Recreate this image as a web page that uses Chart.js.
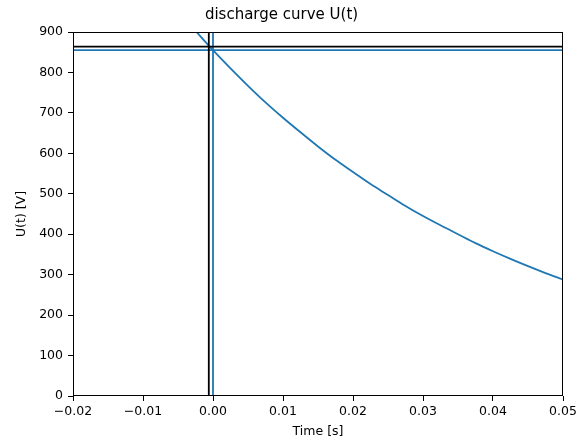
<!DOCTYPE html>
<html>
<head>
<meta charset="utf-8">
<script src="https://cdn.jsdelivr.net/npm/chart.js@4/dist/chart.umd.min.js"></script>
<style>
html,body{margin:0;padding:0;background:#fff;}
#wrap{width:582px;height:441px;}
</style>
</head>
<body>
<div id="wrap"><canvas id="c" width="582" height="441"></canvas></div>
<script>
// Data
const timeS = [-0.0025, 0, 0.0025, 0.005, 0.0075, 0.01, 0.0125, 0.015, 0.0175, 0.02, 0.0225, 0.025, 0.0275, 0.03, 0.0325, 0.035, 0.0375, 0.04, 0.0425, 0.045, 0.0475, 0.05];
const voltageV = [903, 855, 810, 767, 726, 688, 652, 617, 584, 554, 524, 497, 470, 445, 422, 400, 378, 358, 339, 321, 304, 288];
const hLineBlack = 864;
const hLineBlue = 855;
const vLineBlack = -0.0006;
const vLineBlue = 0.0;
const xRange = [-0.02, 0.05];
const yRange = [0, 900];
const xTickStep = 0.01;
const yTickStep = 100;

const BLUE = '#1f77b4';
const curve = timeS.map((t, i) => ({x: t, y: voltageV[i]}));

const framePlugin = {
  id: 'frame',
  afterDatasetsDraw(chart) {
    const {ctx, chartArea: a} = chart;
    ctx.save();
    ctx.strokeStyle = '#000';
    ctx.lineWidth = 1;
    ctx.strokeRect(Math.round(a.left) + 0.5, Math.round(a.top) + 0.5, Math.round(a.right - a.left) - 1, Math.round(a.bottom - a.top) - 1);
    ctx.restore();
  }
};

const fmt = v => {
  if (Math.abs(v) < 1e-9) v = 0;
  return v.toFixed(2).replace('-', '\u2212');
};

new Chart(document.getElementById('c'), {
  type: 'scatter',
  data: {
    datasets: [
      {data: [{x: xRange[0], y: hLineBlack}, {x: xRange[1], y: hLineBlack}], showLine: true, borderColor: '#000', borderWidth: 1.8, pointRadius: 0, clip: 0},
      {data: [{x: vLineBlack, y: yRange[0]}, {x: vLineBlack, y: yRange[1]}], showLine: true, borderColor: '#000', borderWidth: 1.8, pointRadius: 0, clip: 0},
      {data: [{x: xRange[0], y: hLineBlue}, {x: xRange[1], y: hLineBlue}], showLine: true, borderColor: BLUE, borderWidth: 1.8, pointRadius: 0, clip: 0},
      {data: [{x: vLineBlue, y: yRange[0]}, {x: vLineBlue, y: yRange[1]}], showLine: true, borderColor: BLUE, borderWidth: 1.8, pointRadius: 0, clip: 0},
      {data: curve, showLine: true, borderColor: BLUE, borderWidth: 1.8, pointRadius: 0, tension: 0.3, cubicInterpolationMode: 'monotone', clip: 0}
    ]
  },
  options: {
    responsive: false,
    animation: false,
    devicePixelRatio: 1,
    layout: {padding: {left: 0, right: 19, top: 0, bottom: 0}},
    plugins: {
      legend: {display: false},
      tooltip: {enabled: false},
      title: {
        display: true,
        text: 'discharge curve U(t)',
        color: '#000',
        font: {family: 'DejaVu Sans', size: 15, weight: 'normal', lineHeight: 1.2},
        padding: {top: 6, bottom: 8}
      }
    },
    scales: {
      x: {
        type: 'linear',
        min: xRange[0], max: xRange[1],
        afterFit: s => { s.height = 45; },
        ticks: {stepSize: xTickStep, color: '#000', font: {family: 'DejaVu Sans', size: 12.5}, padding: 3, maxRotation: 0, callback: v => fmt(v)},
        grid: {display: true, drawOnChartArea: false, drawTicks: true, tickLength: 5, color: '#000'},
        border: {display: false},
        title: {display: true, text: 'Time [s]', color: '#000', font: {family: 'DejaVu Sans', size: 12.5, lineHeight: 1.2}, padding: {top: 0, bottom: 2}}
      },
      y: {
        type: 'linear',
        min: yRange[0], max: yRange[1],
        afterFit: s => { s.width = 73; },
        ticks: {stepSize: yTickStep, color: '#000', font: {family: 'DejaVu Sans', size: 12.5}, padding: 5},
        grid: {display: true, drawOnChartArea: false, drawTicks: true, tickLength: 5, color: '#000'},
        border: {display: false},
        title: {display: true, text: 'U(t) [V]', color: '#000', font: {family: 'DejaVu Sans', size: 12.5, lineHeight: 1.2}, padding: {top: 14, bottom: 0}}
      }
    }
  },
  plugins: [framePlugin]
});
</script>
</body>
</html>
